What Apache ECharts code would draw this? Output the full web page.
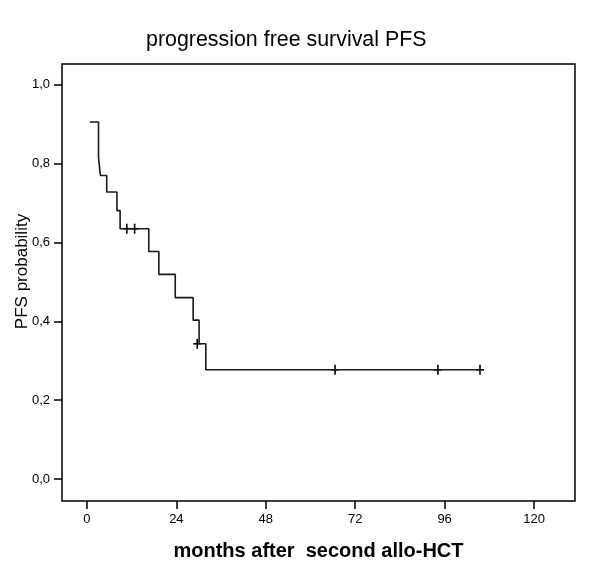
<!DOCTYPE html>
<html>
<head>
<meta charset="utf-8">
<script src="https://cdn.jsdelivr.net/npm/echarts@6/dist/echarts.min.js"></script>
<style>
  html,body{margin:0;padding:0;background:#fff;}
  #chart{width:600px;height:571px;}
</style>
</head>
<body>
<div id="chart"></div>
<script>
// step points of the Kaplan-Meier curve [months, PFS probability]
const stepMonths = [0.8, 3.1, 3.6, 5.3, 8.05, 8.9, 16.6, 19.3, 23.7, 28.5, 30.1, 31.9, 105.5]
const stepProb   = [0.906, 0.816, 0.770, 0.728, 0.681, 0.635, 0.577, 0.519, 0.460, 0.403, 0.343, 0.277, 0.277]
// censored observations
const censorMonths = [10.7, 12.8, 29.6, 66.6, 94.2, 105.5]
const censorProb   = [0.635, 0.635, 0.343, 0.277, 0.277, 0.277]
const xTicks = [0, 24, 48, 72, 96, 120]
const yTicks = [0, 0.2, 0.4, 0.6, 0.8, 1.0]

const font = 'Liberation Sans, Arial, sans-serif'
const curve = stepMonths.map((m, i) => [m, stepProb[i]])
const censors = censorMonths.map((m, i) => [m, censorProb[i]])

const myChart = echarts.init(document.getElementById('chart'), null, {renderer: 'canvas'})
myChart.setOption({
  animation: false,
  backgroundColor: '#fff',
  title: {
    text: 'progression free survival PFS',
    left: 146,
    top: 30,
    padding: 0,
    textStyle: {fontFamily: font, fontSize: 21.4, fontWeight: 'normal', color: '#000'}
  },
  grid: {
    left: 62, right: 25, top: 64, bottom: 70,
    containLabel: false,
    outerBoundsMode: 'none',
    show: true, borderColor: '#000', borderWidth: 1.5
  },
  xAxis: {
    type: 'value',
    min: -6.7,
    max: 131,
    name: 'months after  second allo-HCT',
    nameLocation: 'middle',
    nameGap: 40,
    nameMoveOverlap: false,
    nameTextStyle: {fontFamily: font, fontSize: 20, fontWeight: 'bold', color: '#000'},
    axisLine: {show: false, onZero: false},
    splitLine: {show: false},
    axisTick: {show: true, length: 8, customValues: xTicks, lineStyle: {color: '#000', width: 1.5}},
    axisLabel: {customValues: xTicks, margin: 12, fontFamily: font, fontSize: 13, color: '#000'}
  },
  yAxis: {
    type: 'value',
    min: -0.056,
    max: 1.053,
    name: 'PFS probability',
    nameLocation: 'middle',
    nameRotate: 90,
    nameGap: 31,
    nameMoveOverlap: false,
    nameTextStyle: {fontFamily: font, fontSize: 17, color: '#000', padding: [0, 0, 0, 22]},
    axisLine: {show: false, onZero: false},
    splitLine: {show: false},
    axisTick: {show: true, length: 8, customValues: yTicks, lineStyle: {color: '#000', width: 1.5}},
    axisLabel: {
      customValues: yTicks, margin: 12, fontFamily: font, fontSize: 13, color: '#000',
      formatter: (v) => v.toFixed(1).replace('.', ',')
    }
  },
  series: [
    {
      type: 'line',
      step: 'end',
      data: curve,
      showSymbol: false,
      lineStyle: {color: '#1a1a1a', width: 1.6},
      silent: true
    },
    {
      type: 'custom',
      data: censors,
      renderItem: function (params, api) {
        const p = api.coord([api.value(0), api.value(1)])
        const st = {stroke: '#000', lineWidth: 1.6}
        return {
          type: 'group',
          children: [
            {type: 'line', shape: {x1: p[0], y1: p[1] - 5, x2: p[0], y2: p[1] + 5}, style: st},
            {type: 'line', shape: {x1: p[0] - 4, y1: p[1], x2: p[0] + 4, y2: p[1]}, style: st}
          ]
        }
      }
    }
  ]
})
</script>
</body>
</html>
